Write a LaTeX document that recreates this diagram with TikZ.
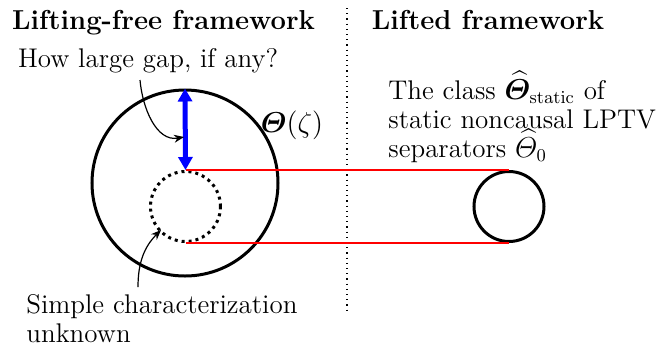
\documentclass[tikz,border=0pt]{standalone}
\usepackage{amsmath,amssymb,bm}
\usetikzlibrary{arrows.meta}
\begin{document}
\begin{tikzpicture}[x=0.5pt,y=-0.5pt,
  lbl/.style={inner sep=0pt,font=\fontsize{13.5}{14.5}\selectfont},
  head/.style={inner sep=0pt,font=\fontsize{13.7}{16}\selectfont\bfseries},
  ring/.style={circle,draw,line width=1.5pt,inner sep=0pt},
  link/.style={draw=red,line width=1pt},
  pointer/.style={-{Stealth[length=5pt,width=4pt]},line width=0.6pt}]
\useasboundingbox (0,0) rectangle (671,345);
\node[head,anchor=base] (h1) at (163.5,29) {Lifting-free framework};
\node[head,anchor=base] (h2) at (488,29) {Lifted framework};
\draw[dotted,line width=0.6pt] (347,8) coordinate (s1) -- (347,312) coordinate (s2);
\node[ring,minimum size=93pt] (big) at (185,183) {};
\node[ring,dotted,minimum size=35pt] (small) at (185.5,206.5) {};
\node[ring,minimum size=35pt] (right) at (509,206.5) {};
\node[lbl] (theta) at (292,125) {$\boldsymbol{\varTheta}(\zeta)$};
\draw[link] (small.north) -- (right.north);
\draw[link] (small.south) -- (right.south);
\draw[blue,line width=2.5pt,{Triangle[width=7pt,length=6.5pt]}-{Triangle[width=7pt,length=6.5pt]}] (big.north) -- (small.north);
\node[lbl,anchor=base] (q) at (148,67) {How large gap, if any?};
\coordinate (qs) at (140,80);
\coordinate (qe) at (184,137);
\draw[pointer] (qs) to[out=-85,in=190] (qe);
\node[lbl,anchor=base west,align=left] (cls) at (388,157) {The class $\widehat{\boldsymbol{\varTheta}}_{\mathrm{static}}$ of\\static noncausal LPTV\\separators $\widehat{\varTheta}_0$};
\node[lbl,anchor=base west,align=left] (unk) at (26,342) {Simple characterization\\unknown};
\coordinate (us) at (138,287);
\coordinate (ue) at (161,230);
\draw[pointer] (us) to[out=90,in=225] (ue);
\end{tikzpicture}
\end{document}
